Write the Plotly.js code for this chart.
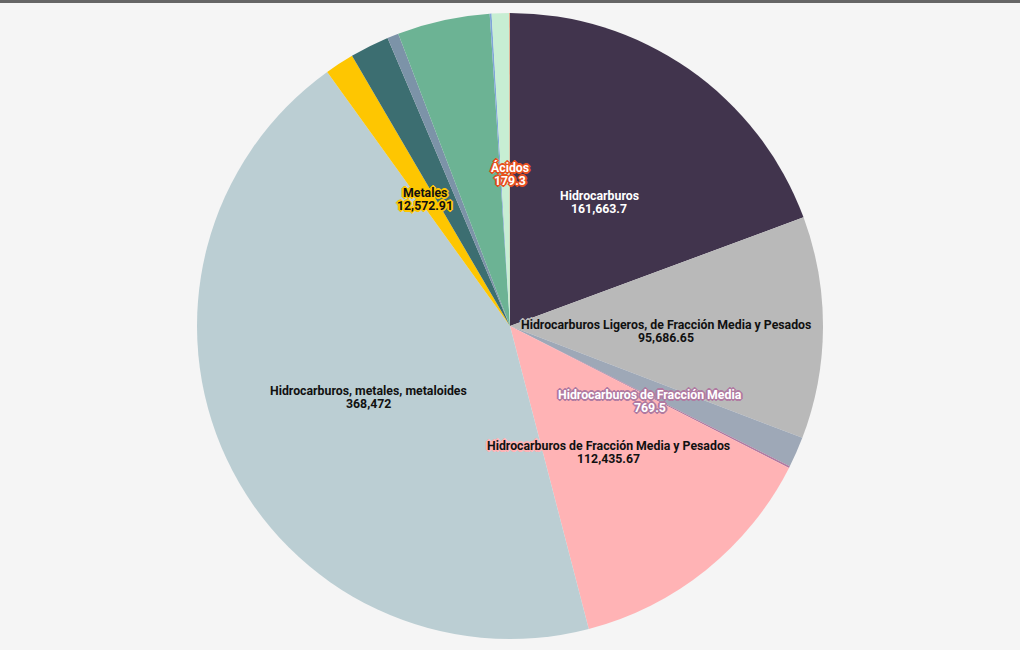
<!DOCTYPE html>
<html>
<head>
<meta charset="utf-8">
<script src="https://cdn.plot.ly/plotly-3.0.1.min.js"></script>
<style>
  html, body { margin: 0; padding: 0; background: #f5f5f5; }
  #chart { width: 1020px; height: 650px; }
</style>
</head>
<body>
<div id="chart"></div>
<script>
// Categories (clockwise from 12 o'clock)
const categories = [
  "Hidrocarburos",
  "Hidrocarburos Ligeros, de Fracción Media y Pesados",
  "Hidrocarburos Ligeros",
  "Hidrocarburos de Fracción Media",
  "Hidrocarburos de Fracción Media y Pesados",
  "Hidrocarburos, metales, metaloides",
  "Metales",
  "Metaloides",
  "Hidrocarburos Pesados",
  "Hidrocarburos y metales",
  "Solventes",
  "Bases",
  "Ácidos"
];
const values = [161663.7, 95686.65, 13200, 769.5, 112435.67, 368472, 12572.91, 16900, 4900, 39900, 800, 7650, 179.3];
const colors = ["#41344d", "#b9b9b9", "#9ea8b7", "#b07aa1", "#ffb3b5", "#bbced3", "#fec601", "#3c6e71", "#7c93a8", "#6cb394", "#7fa6d8", "#c7eed3", "#e8501e"];
// Which slices carry a label, and label styling
const labeled    = [true, true, false, true, true, true, true, false, false, false, false, false, true];
const textColors = ["#ffffff", "#111111", "#111111", "#ffffff", "#111111", "#111111", "#111111", "#111111", "#111111", "#111111", "#111111", "#111111", "#ffffff"];

const W = 1020, H = 650;
const margin = {l: 0, r: 0, t: 13, b: 11};
const plotW = W - margin.l - margin.r, plotH = H - margin.t - margin.b;
const R = Math.min(plotW, plotH) / 2;

function fmt(v) {
  return v.toLocaleString("en-US", {maximumFractionDigits: 2});
}
function halo(c) {
  const o = [[-1,-1],[1,-1],[-1,1],[1,1],[0,1],[0,-1],[1,0],[-1,0],[0,2],[0,-2],[2,0],[-2,0]];
  return o.map(p => p[0] + "px " + p[1] + "px 0 " + c).join(", ");
}

const total = values.reduce((a, b) => a + b, 0);
const annotations = [];
let cum = 0;
values.forEach((v, i) => {
  const mid = (cum + v / 2) / total * 2 * Math.PI;
  cum += v;
  if (!labeled[i]) return;
  const rr = 0.5 * R;
  const x = 0.5 + rr * Math.sin(mid) / plotW;
  const y = 0.5 + rr * Math.cos(mid) / plotH;
  const font = {family: "Roboto, 'Open Sans', sans-serif", size: 12.3, weight: 700, color: textColors[i], shadow: halo(colors[i])};
  annotations.push({xref: "paper", yref: "paper", x: x, y: y, yshift: 2, text: categories[i], showarrow: false, font: font, xanchor: "center", yanchor: "middle"});
  annotations.push({xref: "paper", yref: "paper", x: x, y: y, yshift: -11, text: fmt(v), showarrow: false, font: font, xanchor: "center", yanchor: "middle"});
});

const data = [{
  type: "pie",
  labels: categories,
  values: values,
  sort: false,
  direction: "clockwise",
  rotation: 0,
  textinfo: "none",
  hoverinfo: "label+value",
  marker: {colors: colors, line: {width: 0}},
  showlegend: false
}];

const layout = {
  width: W, height: H,
  margin: margin,
  paper_bgcolor: "#f5f5f5",
  plot_bgcolor: "#f5f5f5",
  showlegend: false,
  annotations: annotations,
  shapes: [{
    type: "rect", xref: "paper", yref: "paper",
    x0: -0.01, x1: 1.01,
    y0: 1 + (margin.t - 3) / plotH, y1: 1 + (margin.t + 2) / plotH,
    fillcolor: "#666666", line: {width: 0}
  }]
};

Plotly.newPlot("chart", data, layout, {displayModeBar: false, staticPlot: false});
</script>
</body>
</html>
